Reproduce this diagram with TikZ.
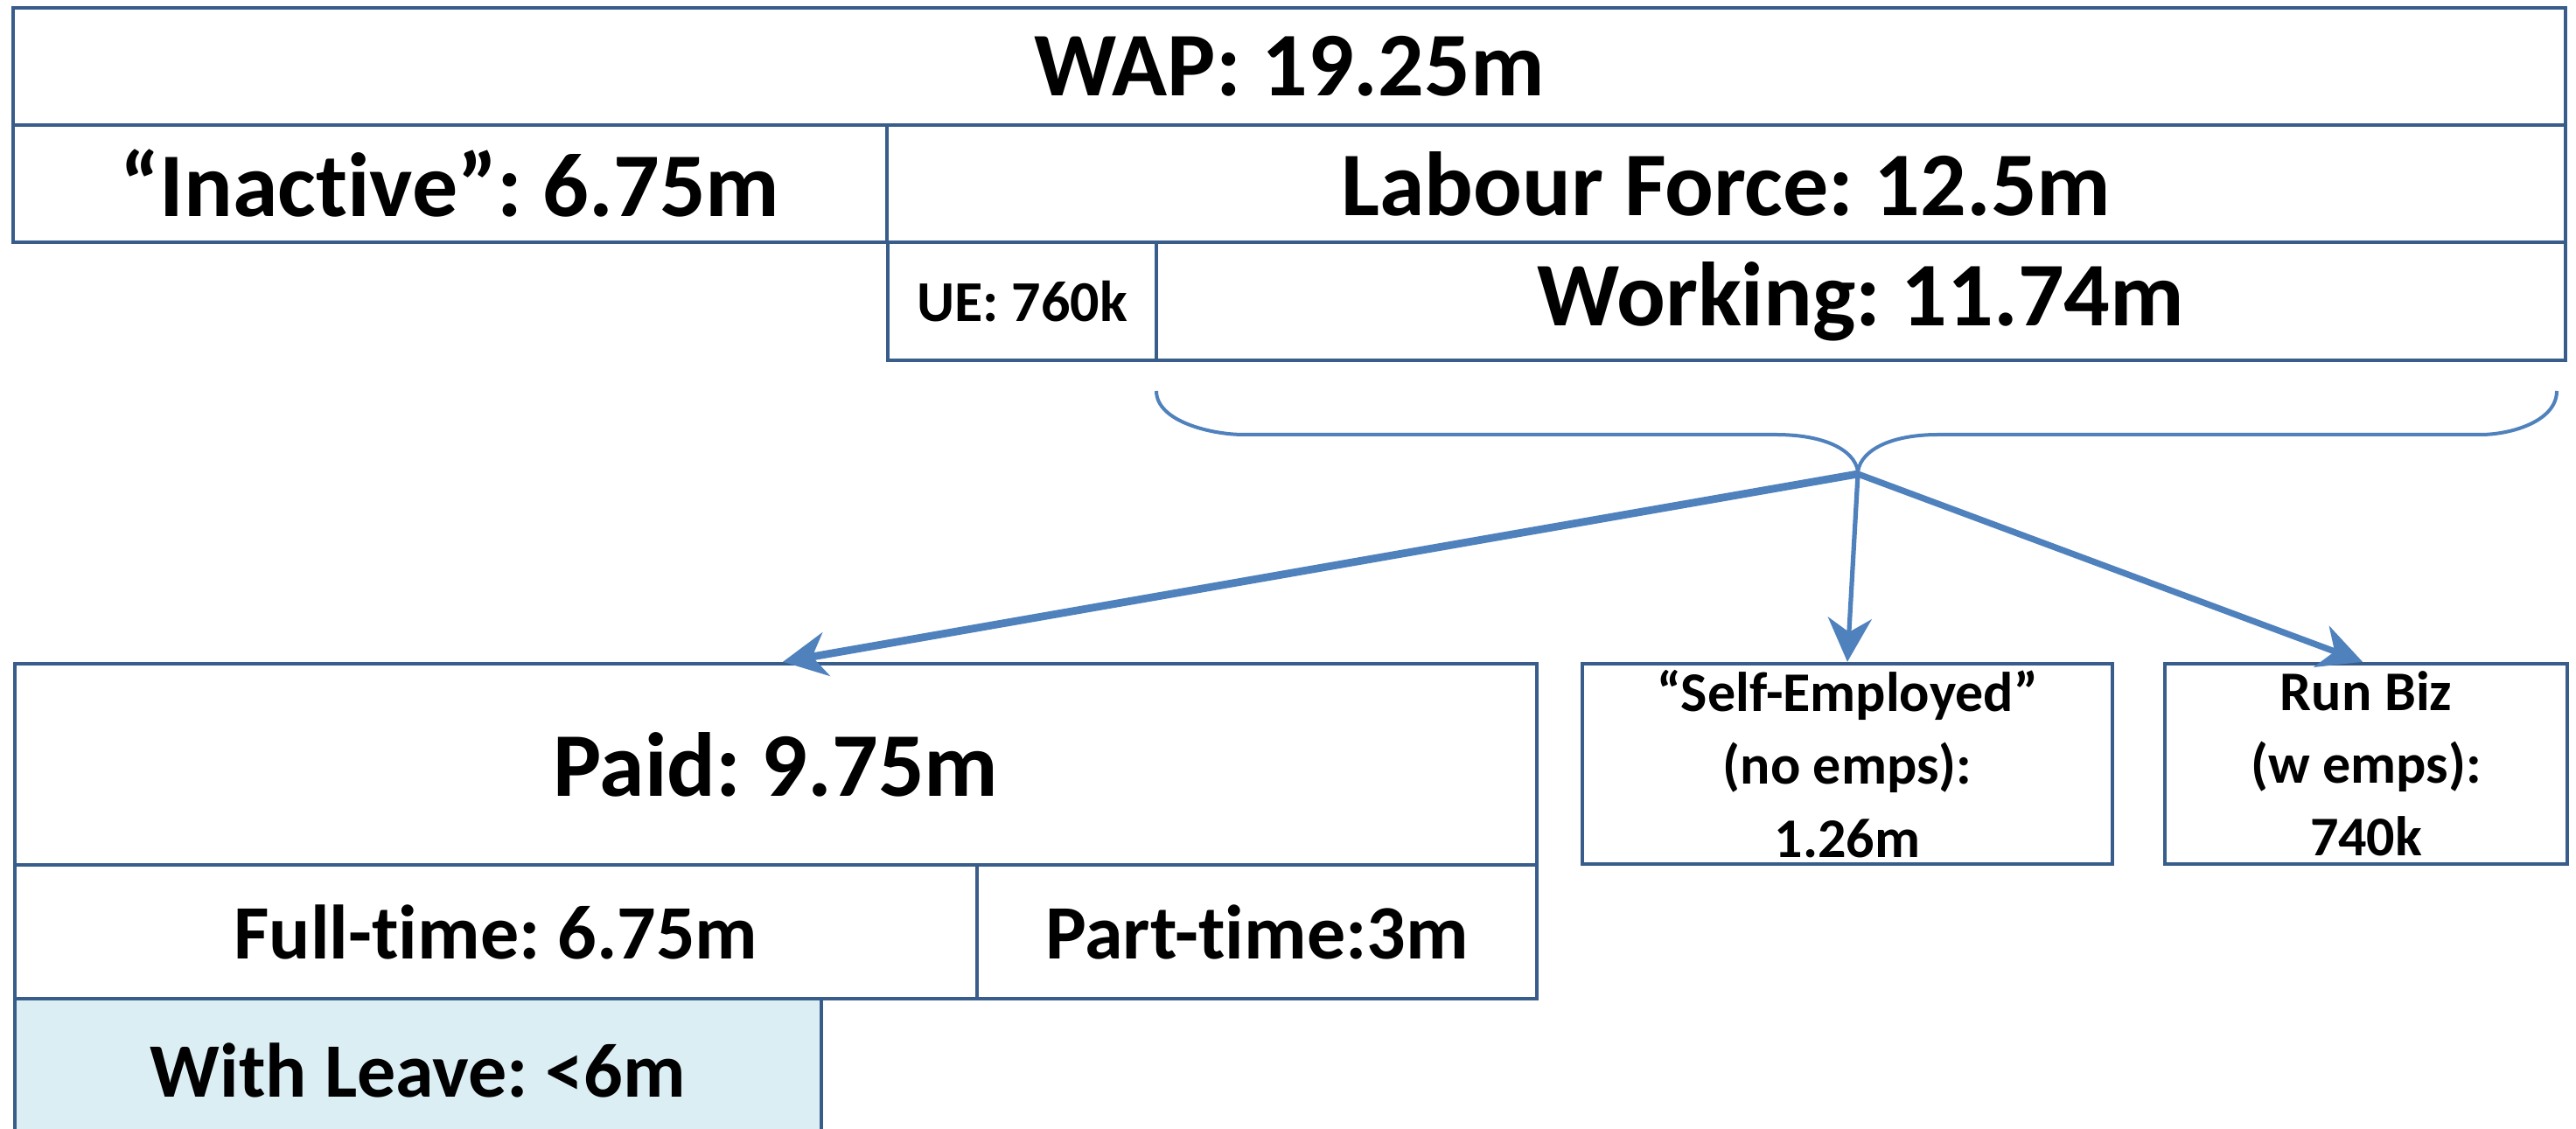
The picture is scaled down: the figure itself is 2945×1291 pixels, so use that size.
\documentclass[tikz,border=0pt]{standalone}
\usepackage{fontspec}
\setmainfont{Carlito}[Ligatures=NoCommon]
\usetikzlibrary{arrows.meta}
\definecolor{boxline}{HTML}{385D8A}
\definecolor{flow}{HTML}{4F81BD}
\definecolor{leavefill}{HTML}{DBEEF4}
\frenchspacing
\begin{document}
\begin{tikzpicture}[x=0.25pt,y=-0.25pt,
  box/.style={draw=boxline, line width=1.1pt, fill=white, inner sep=0pt, align=center},
  huge/.style={font=\fontsize{26}{31}\selectfont\bfseries},
  mid/.style={font=\fontsize{22}{26}\selectfont\bfseries},
  small/.style={font=\fontsize{16.5}{20}\selectfont\bfseries},
  stack/.style={font=\fontsize{16}{20.8}\selectfont\bfseries},
  flowarrow/.style={draw=flow, -{Stealth[length=12.5pt, width=12.5pt, inset=4pt]}},
  brace/.style={draw=flow, line width=1pt}]
\clip (0,0) rectangle (2945,1291);
\fill[white] (0,0) rectangle (2945,1291);

% population breakdown, top rows
\node[box, huge, minimum width=729.5pt, minimum height=33.5pt] (wap) at (1474,76) {WAP: 19.25m};
\node[box, huge, minimum width=249.75pt, minimum height=33.5pt] (inactive) at (514.5,210) {“Inactive”: 6.75m};
\node[box, huge, minimum width=479.75pt, minimum height=33.5pt] (lf) at (1973.5,210) {Labour Force: 12.5m};
\node[box, small, minimum width=76.75pt, minimum height=33.75pt] (ue) at (1168.5,344.5) {UE: 760k};
\node[box, huge, minimum width=402.75pt, minimum height=33.75pt] (working) at (2127.5,344.5) {Working: 11.74m};

% brace under the working population
\coordinate (tip) at (2124,542);
\draw[brace] (1322,447) .. controls (1322,482) and (1385,497) .. (1422,497)
  -- (2030,497) .. controls (2095,497) and (2124,520) .. (tip)
  .. controls (2124,520) and (2153,497) .. (2216,497)
  -- (2836,497) .. controls (2870,497) and (2923,482) .. (2923,447);

% kinds of work
\node[box, huge, minimum width=435pt, minimum height=57.5pt] (paid) at (887,874) {Paid: 9.75m};
\node[box, mid, minimum width=275pt, minimum height=38.25pt] (ft) at (567,1065.5) {Full-time: 6.75m};
\node[box, mid, minimum width=160pt, minimum height=38.25pt] (pt) at (1437,1065.5) {Part-time:3m};
\node[box, mid, fill=leavefill, minimum width=230.5pt, minimum height=40.75pt] (leave) at (478,1223.5) {With Leave: <6m};
\node[box, stack, minimum width=151.5pt, minimum height=57.25pt] (self) at (2112,873.5) {“Self-Employed”\\(no emps):\\1.26m};
\node[box, stack, minimum width=115pt, minimum height=57.25pt] (biz) at (2705,873.5) {Run Biz\\(w emps):\\740k};

% arrows from the brace tip
\draw[flowarrow, line width=2.2pt] (tip) -- ([xshift=2pt]paid.north);
\draw[flowarrow, line width=1.3pt] (tip) -- (self.north);
\draw[flowarrow, line width=1.8pt] (tip) -- ([xshift=-1pt]biz.north);
\end{tikzpicture}
\end{document}
